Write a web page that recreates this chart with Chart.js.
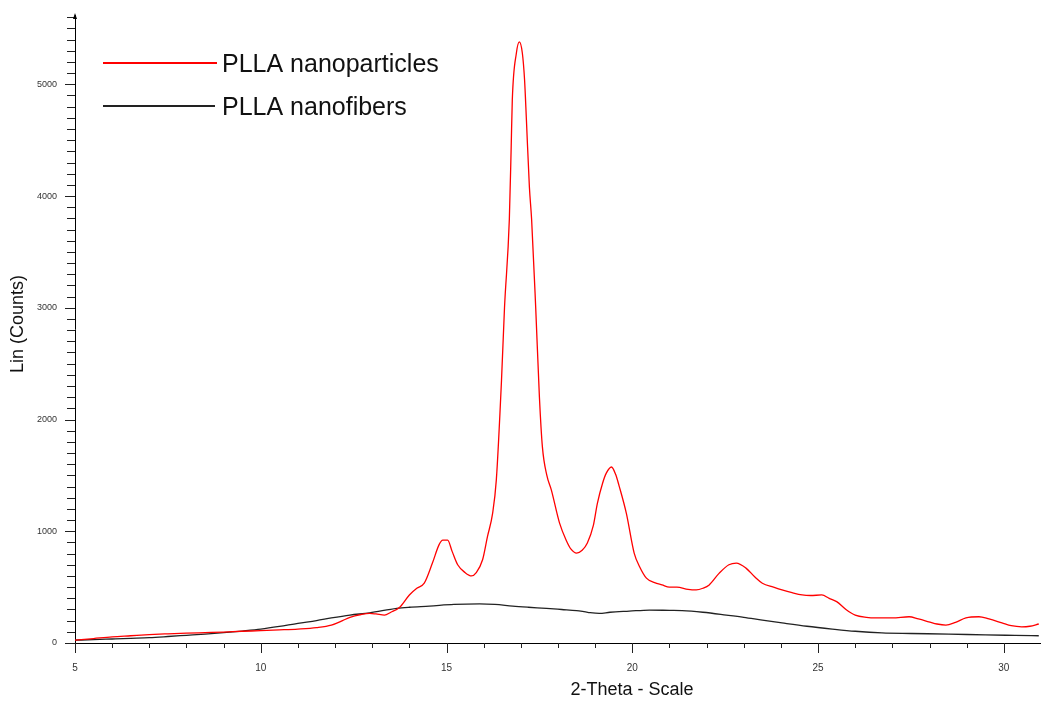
<!DOCTYPE html>
<html>
<head>
<meta charset="utf-8">
<script src="https://cdn.jsdelivr.net/npm/chart.js@4.4.1/dist/chart.umd.min.js"></script>
<style>
  body { margin: 0; background: #fff; }
  #wrap { width: 1041px; height: 706px; }
</style>
</head>
<body>
<div id="wrap"><canvas id="xrd" width="1041" height="706"></canvas></div>
<script>
const seriesNames = ['PLLA nanoparticles', 'PLLA nanofibers'];

const particlesTheta = [5.0, 5.5, 6.0, 6.5, 7.0, 7.5, 8.0, 8.5, 9.0, 9.5, 10.0, 10.5, 11.0, 11.5, 11.9,
  12.2, 12.4, 12.7, 12.93, 13.1, 13.33, 13.5, 13.74, 14.0, 14.2, 14.4, 14.62, 14.8, 14.9, 15.03,
  15.15, 15.3, 15.5, 15.67, 15.8, 15.97, 16.1, 16.24, 16.34, 16.48, 16.56, 16.69, 16.74, 16.77,
  16.88, 16.96, 17.04, 17.1, 17.15, 17.23, 17.29, 17.4, 17.5, 17.58, 17.7, 17.82, 18.04, 18.22,
  18.35, 18.5, 18.65, 18.79, 18.95, 19.06, 19.2, 19.3, 19.44, 19.55, 19.65, 19.84, 20.05, 20.2,
  20.38, 20.6, 20.8, 21.0, 21.2, 21.5, 21.72, 21.9, 22.07, 22.34, 22.6, 22.8, 23.06, 23.3, 23.5,
  23.8, 24.03, 24.3, 24.57, 24.8, 25.1, 25.3, 25.5, 25.75, 26.0, 26.3, 26.56, 27.0, 27.45, 27.7,
  27.98, 28.2, 28.44, 28.7, 28.98, 29.33, 29.6, 29.95, 30.2, 30.48, 30.7, 30.94];
const particlesCounts = [25, 40, 55, 65, 75, 82, 88, 93, 98, 105, 110, 117, 125, 138, 160,
  200, 230, 255, 265, 260, 250, 275, 320, 430, 490, 535, 715, 880, 920, 920,
  820, 700, 630, 600, 630, 745, 950, 1160, 1460, 2355, 3000, 3790, 4440, 4860,
  5280, 5380, 5280, 5040, 4680, 4080, 3790, 3000, 2200, 1755, 1500, 1370, 1075, 920,
  840, 805, 830, 895, 1050, 1250, 1430, 1520, 1575, 1510, 1400, 1160, 805, 680,
  580, 540, 520, 500, 500, 480, 475, 490, 520, 625, 700, 715, 670, 590, 535,
  500, 475, 450, 430, 425, 430, 400, 370, 300, 250, 230, 225, 225, 235, 215,
  190, 170, 160, 185, 225, 235, 215, 180, 155, 145, 150, 170];

const fibersTheta = [5.0, 5.5, 6.0, 6.5, 7.0, 7.5, 8.0, 8.5, 9.0, 9.5, 10.0, 10.5, 11.0, 11.5, 11.9,
  12.4, 12.93, 13.66, 14.0, 14.54, 15.2, 15.89, 16.3, 16.78, 17.2, 17.69, 18.1, 18.5, 18.8, 19.11,
  19.4, 19.92, 20.46, 21.0, 21.34, 21.9, 22.53, 23.0, 23.5, 24.03, 24.7, 25.38, 26.0, 26.72,
  27.5, 28.52, 29.5, 30.3, 30.94];
const fibersCounts = [25, 30, 36, 42, 48, 58, 69, 80, 92, 107, 124, 148, 176, 200, 224,
  250, 270, 310, 320, 330, 345, 350, 345, 330, 320, 310, 300, 290, 275, 265,
  275, 285, 295, 292, 290, 275, 250, 230, 205, 180, 150, 125, 105, 90,
  85, 80, 72, 68, 65];

const lineColors = ['#ff0000', '#222222'];

// Achsenbereich
const thetaMin = 5, thetaMax = 31;
const countsMin = 0, countsMax = 5620;

function toPoints(xs, ys) {
  return xs.map((x, i) => ({ x: x, y: ys[i] }));
}

// Teilstriche, Titel, Legende und Pfeil
const decorPlugin = {
  id: 'decor',
  afterDraw(chart) {
    const ctx = chart.ctx;
    const xs = chart.scales.x, ys = chart.scales.y;
    const area = chart.chartArea;
    ctx.save();
    ctx.strokeStyle = '#222';
    ctx.lineWidth = 1;
    ctx.beginPath();
    for (let v = 0; v <= 5600; v += 100) {
      const py = Math.round(ys.getPixelForValue(v)) + 0.5;
      const len = v % 1000 === 0 ? 10 : 8;
      ctx.moveTo(area.left - len, py);
      ctx.lineTo(area.left, py);
    }
    for (let v = thetaMin; v <= thetaMax; v += 1) {
      const px = Math.round(xs.getPixelForValue(v)) + 0.5;
      const len = v % 5 === 0 ? 10 : 5;
      ctx.moveTo(px, area.bottom);
      ctx.lineTo(px, area.bottom + len);
    }
    ctx.stroke();

    // Pfeilspitze oben an der y-Achse
    ctx.fillStyle = '#000';
    ctx.beginPath();
    ctx.moveTo(area.left, area.top - 2);
    ctx.lineTo(area.left - 2, area.top + 4);
    ctx.lineTo(area.left + 2, area.top + 4);
    ctx.closePath();
    ctx.fill();

    // Achsentitel
    ctx.fillStyle = '#111';
    ctx.textAlign = 'center';
    ctx.textBaseline = 'middle';
    ctx.font = '18px "Liberation Sans", Arial, sans-serif';
    ctx.fillText('2-Theta - Scale', 632, 690);
    ctx.save();
    ctx.translate(18, 324);
    ctx.rotate(-Math.PI / 2);
    ctx.fillText('Lin (Counts)', 0, 0);
    ctx.restore();

    // Legende
    const legendY = [63, 106];
    const legendEnd = [217, 215];
    ctx.textAlign = 'left';
    ctx.font = '25px "Liberation Sans", Arial, sans-serif';
    chart.data.datasets.forEach((ds, i) => {
      ctx.strokeStyle = ds.borderColor;
      ctx.lineWidth = 2;
      ctx.beginPath();
      ctx.moveTo(103, legendY[i]);
      ctx.lineTo(legendEnd[i], legendY[i]);
      ctx.stroke();
      ctx.fillStyle = '#111';
      ctx.fillText(ds.label, 222, legendY[i] + 2);
    });
    ctx.restore();
  }
};

new Chart(document.getElementById('xrd'), {
  type: 'line',
  data: {
    datasets: [
      {
        label: seriesNames[0],
        data: toPoints(particlesTheta, particlesCounts),
        borderColor: lineColors[0],
        borderWidth: 1.3,
        pointRadius: 0,
        cubicInterpolationMode: 'monotone'
      },
      {
        label: seriesNames[1],
        data: toPoints(fibersTheta, fibersCounts),
        borderColor: lineColors[1],
        borderWidth: 1.3,
        pointRadius: 0,
        cubicInterpolationMode: 'monotone'
      }
    ]
  },
  options: {
    responsive: false,
    animation: false,
    layout: { padding: { top: 15, right: 0, left: 0, bottom: 0 } },
    plugins: {
      legend: { display: false },
      tooltip: { enabled: false }
    },
    scales: {
      x: {
        type: 'linear',
        min: thetaMin,
        max: thetaMax,
        afterFit: s => { s.height = 63; s.paddingLeft = 0; s.paddingRight = 0; },
        border: { display: true, color: '#000', width: 1 },
        grid: { drawOnChartArea: false, tickLength: 10, tickColor: 'transparent' },
        ticks: {
          stepSize: 1,
          autoSkip: false,
          maxRotation: 0,
          padding: 9,
          color: '#333',
          font: { size: 10, family: '"Liberation Sans", Arial, sans-serif' },
          callback: v => (v % 5 === 0 ? String(v) : '')
        }
      },
      y: {
        type: 'linear',
        min: countsMin,
        max: countsMax,
        afterFit: s => { s.width = 75; s.paddingTop = 0; s.paddingBottom = 0; },
        border: { display: true, color: '#000', width: 1 },
        grid: { drawOnChartArea: false, tickLength: 10, tickColor: 'transparent' },
        ticks: {
          stepSize: 100,
          autoSkip: false,
          includeBounds: false,
          padding: 8,
          color: '#333',
          font: { size: 9, family: '"Liberation Sans", Arial, sans-serif' },
          callback: v => (v % 1000 === 0 ? String(v) : '')
        }
      }
    }
  },
  plugins: [decorPlugin]
});
</script>
</body>
</html>
